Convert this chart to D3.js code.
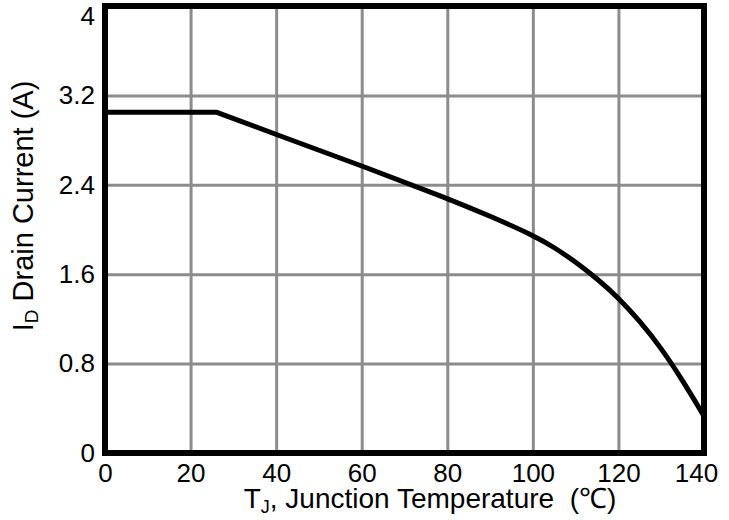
<!DOCTYPE html>
<html>
<head>
<meta charset="utf-8">
<script src="https://cdn.jsdelivr.net/npm/d3@7"></script>
<style>
  body { margin: 0; background: #fff; }
  svg { display: block; font-family: "Liberation Sans", Arial, sans-serif; }
</style>
</head>
<body>
<svg width="729" height="520"></svg>
<script>
// curve
let tempC = [0, 26, 40, 60, 80, 90, 100, 105, 110, 115, 120, 125, 130, 135, 140]
let drainA = [3.05, 3.05, 2.85, 2.57, 2.28, 2.12, 1.95, 1.84, 1.71, 1.56, 1.39, 1.18, 0.94, 0.65, 0.33]
let xTicks = [0, 20, 40, 60, 80, 100, 120, 140]
let yTicks = [0, 0.8, 1.6, 2.4, 3.2, 4]

let width = 729
let height = 520
let margin = { top: 6, bottom: 67, right: 25, left: 105 }
let innerWidth = width - margin.left - margin.right
let innerHeight = height - margin.top - margin.bottom

let svg = d3.select('svg')
const g = svg.append('g')
    .attr('transform', 'translate(' + margin.left + ',' + margin.top + ')')

const xScale = d3.scaleLinear().domain([0, 140]).range([0, innerWidth])
const yScale = d3.scaleLinear().domain([0, 4]).range([innerHeight, 0])

// grid
g.append('g')
    .attr('transform', `translate(0,${innerHeight})`)
    .call(d3.axisBottom(xScale).tickValues(xTicks).tickSize(-innerHeight).tickFormat(''))
    .call(a => a.select('.domain').remove())
    .call(a => a.selectAll('text').remove())
    .selectAll('line').attr('stroke', '#8c8c8c').attr('stroke-width', 3)
g.append('g')
    .call(d3.axisLeft(yScale).tickValues(yTicks).tickSize(-innerWidth).tickFormat(''))
    .call(a => a.select('.domain').remove())
    .call(a => a.selectAll('text').remove())
    .selectAll('line').attr('stroke', '#8c8c8c').attr('stroke-width', 3)

// curve: flat part straight, the rest smoothed
let pts = tempC.map((t, i) => [t, drainA[i]])
const flat = d3.line().x(d => xScale(d[0])).y(d => yScale(d[1]))
const bend = d3.line().x(d => xScale(d[0])).y(d => yScale(d[1])).curve(d3.curveBasis)
g.append('path')
    .attr('d', flat(pts.slice(0, 2)) + bend(pts.slice(1)).replace(/^M[^LC]*/, 'L' + xScale(pts[1][0]) + ',' + yScale(pts[1][1])))
    .attr('fill', 'none')
    .attr('stroke', '#000')
    .attr('stroke-width', 5)
    .attr('stroke-linejoin', 'round')

// frame
g.append('rect')
    .attr('width', innerWidth)
    .attr('height', innerHeight)
    .attr('fill', 'none')
    .attr('stroke', '#000')
    .attr('stroke-width', 6)

// tick labels
const xAxis = g.append('g')
    .attr('transform', `translate(0,${innerHeight})`)
    .call(d3.axisBottom(xScale).tickValues(xTicks).tickSize(0).tickPadding(11).tickFormat(d3.format('d')))
xAxis.select('.domain').remove()
xAxis.selectAll('text').attr('font-size', 26).attr('fill', '#000')
    .attr('font-family', '"Liberation Sans", Arial, sans-serif')
    .attr('dx', d => d === 140 ? -8 : 0)

const yAxis = g.append('g')
    .call(d3.axisLeft(yScale).tickValues(yTicks).tickSize(0).tickPadding(10).tickFormat(d => d))
yAxis.select('.domain').remove()
yAxis.selectAll('text').attr('font-size', 26).attr('fill', '#000')
    .attr('font-family', '"Liberation Sans", Arial, sans-serif')
    .attr('dy', d => d === 4 ? '0.7em' : '0.32em')

// axis titles
const xt = svg.append('text')
    .attr('x', 430)
    .attr('y', 508)
    .attr('text-anchor', 'middle')
    .attr('font-size', 28)
    .style('white-space', 'pre')
xt.append('tspan').text('T')
xt.append('tspan').attr('font-size', 18).attr('dy', 5).text('J')
xt.append('tspan').attr('dy', -5).text(', Junction Temperature  (\u2103)')

const yt = svg.append('text')
    .attr('transform', 'translate(33,206) rotate(-90)')
    .attr('text-anchor', 'middle')
    .attr('font-size', 29)
yt.append('tspan').text('I')
yt.append('tspan').attr('font-size', 19).attr('dy', 5).text('D')
yt.append('tspan').attr('dy', -5).text(' Drain Current (A)')
</script>
</body>
</html>
